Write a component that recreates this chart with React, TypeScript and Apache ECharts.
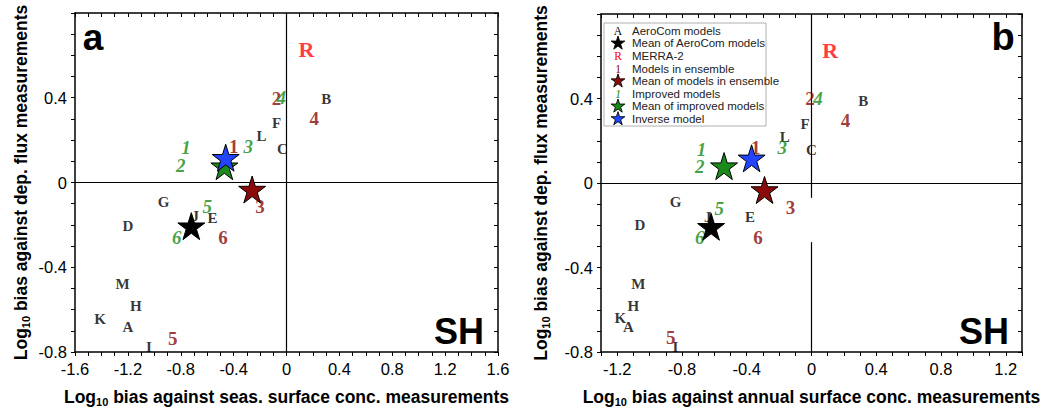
import React, { useEffect, useRef } from "react";
import * as echarts from "echarts";

// ---------- Panel a (seasonal surface conc.) ----------
const aeroLetters = ["A", "B", "C", "D", "E", "F", "G", "H", "I", "J", "K", "L", "M"];
const aeroA_X = [-1.2, 0.3, -0.03, -1.2, -0.56, -0.075, -0.93, -1.14, -1.04, -0.69, -1.41, -0.19, -1.24];
const aeroA_Y = [-0.68, 0.395, 0.16, -0.203, -0.167, 0.28, -0.093, -0.585, -0.775, -0.16, -0.645, 0.22, -0.48];
const modelNumbers = ["1", "2", "3", "4", "5", "6"];
const ensA_X = [-0.4, -0.075, -0.2, 0.21, -0.86, -0.48];
const ensA_Y = [0.17, 0.395, -0.115, 0.3, -0.735, -0.26];
const impA_X = [-0.76, -0.8, -0.29, -0.04, -0.6, -0.83];
const impA_Y = [0.164, 0.08, 0.17, 0.4, -0.115, -0.26];
const merraA = [0.15, 0.626];
const meanAeroA = [-0.72, -0.206];
const meanEnsA = [-0.26, -0.033];
const meanImpA = [-0.47, 0.077];
const inverseA = [-0.46, 0.117];

// ---------- Panel b (annual surface conc.) ----------
const aeroB_X = [-1.13, 0.32, 0.0, -1.06, -0.38, -0.04, -0.84, -1.1, -0.84, -0.64, -1.18, -0.165, -1.07];
const aeroB_Y = [-0.68, 0.39, 0.155, -0.2, -0.163, 0.28, -0.09, -0.58, -0.775, -0.16, -0.64, 0.22, -0.48];
const ensB_X = [-0.345, -0.01, -0.13, 0.21, -0.87, -0.33];
const ensB_Y = [0.17, 0.4, -0.115, 0.295, -0.73, -0.26];
const impB_X = [-0.68, -0.69, -0.18, 0.04, -0.57, -0.69];
const impB_Y = [0.16, 0.076, 0.17, 0.4, -0.12, -0.26];
const merraB = [0.115, 0.625];
const meanAeroB = [-0.62, -0.207];
const meanEnsB = [-0.29, -0.033];
const meanImpB = [-0.54, 0.08];
const inverseB = [-0.37, 0.117];

// ---------- axes ----------
const xRangeA = [-1.6, 1.6];
const xRangeB = [-1.3, 1.3];
const yRange = [-0.8, 0.8];
const xTitleA = "bias against seas. surface conc. measurements";
const xTitleB = "bias against annual surface conc. measurements";
const yTitle = "bias against dep. flux measurements";

const legendLabels = [
  "AeroCom models",
  "Mean of AeroCom models",
  "MERRA-2",
  "Models in ensemble",
  "Mean of models in ensemble",
  "Improved models",
  "Mean of improved models",
  "Inverse model",
];
const legendKinds = ["letter", "star", "merra", "ens", "star", "imp", "star", "star"];
const legendColors = ["#000000", "#000000", "#ff0000", "#8b0a0a", "#8b0a0a", "#1a8a1a", "#1a8a1a", "#2244ff"];

const DARKRED = "#880808";
const GREEN = "#168a16";
const RED = "#ff0a0a";

const STAR_D =
  "M50,0 L61.23,34.55 L97.55,34.55 L68.17,55.9 L79.39,90.45 L50,69.1 L20.61,90.45 L31.83,55.9 L2.45,34.55 L38.77,34.55 Z";
const STAR_SYMBOL = "path://" + STAR_D;

const SANS = "Liberation Sans";
const SERIF = "Liberation Serif";

function tickFmtX(v: number) {
  const r = Math.round(v * 10);
  if (r % 4 !== 0) return "";
  if (r === 0) return "0";
  return (r / 10).toFixed(1);
}
function tickFmtY(v: number) {
  const r = Math.round(v * 10);
  if (r % 4 !== 0 || r === 8) return "";
  if (r === 0) return "0";
  return (r / 10).toFixed(1);
}

const titleRich = {
  b: { fontSize: 17.5, fontWeight: "bold", fontFamily: SANS, color: "#000", lineHeight: 21 },
  s: { fontSize: 11, fontWeight: "bold", fontFamily: SANS, color: "#000", lineHeight: 21, verticalAlign: "bottom" },
};

const lineStyleAxis = { color: "#000", width: 1.5 };

function makeXAxes(gridIndex: number, range: number[], title: string) {
  return [
    {
      type: "value",
      gridIndex,
      position: "bottom",
      min: range[0],
      max: range[1],
      interval: 0.1,
      axisLine: { show: true, onZero: false, lineStyle: lineStyleAxis },
      axisTick: { show: true, inside: false, length: 4, lineStyle: { color: "#000", width: 1 } },
      axisLabel: { formatter: tickFmtX, color: "#000", fontSize: 16.5, fontFamily: SANS, margin: 8 },
      splitLine: { show: false },
      name: "{b|Log}{s|10}{b| " + title + "}",
      nameLocation: "middle",
      nameGap: 34,
      nameTextStyle: { rich: titleRich },
    },
    {
      type: "value",
      gridIndex,
      position: "top",
      min: range[0],
      max: range[1],
      interval: 0.1,
      axisLine: { show: true, onZero: false, lineStyle: lineStyleAxis },
      axisTick: { show: true, inside: true, length: 4, lineStyle: { color: "#000", width: 1 } },
      axisLabel: { show: false },
      splitLine: { show: false },
    },
  ];
}

function makeYAxes(gridIndex: number, gap: number) {
  return [
    {
      type: "value",
      gridIndex,
      position: "left",
      min: yRange[0],
      max: yRange[1],
      interval: 0.1,
      axisLine: { show: true, onZero: false, lineStyle: lineStyleAxis },
      axisTick: { show: true, inside: false, length: 4, lineStyle: { color: "#000", width: 1 } },
      axisLabel: { formatter: tickFmtY, color: "#000", fontSize: 16.5, fontFamily: SANS, margin: 8 },
      splitLine: { show: false },
      name: "{b|Log}{s|10}{b| " + yTitle + "}",
      nameLocation: "middle",
      nameRotate: 90,
      nameGap: gap,
      nameTextStyle: { rich: titleRich },
    },
    {
      type: "value",
      gridIndex,
      position: "right",
      min: yRange[0],
      max: yRange[1],
      interval: 0.1,
      axisLine: { show: true, onZero: false, lineStyle: lineStyleAxis },
      axisTick: { show: true, inside: true, length: 4, lineStyle: { color: "#000", width: 1 } },
      axisLabel: { show: false },
      splitLine: { show: false },
    },
  ];
}

function textSeries(xs: number[], ys: number[], labels: string[], style: any, xi: number, yi: number, markLine?: any) {
  const s: any = {
    type: "scatter",
    xAxisIndex: xi,
    yAxisIndex: yi,
    symbolSize: 1,
    itemStyle: { color: "rgba(0,0,0,0)" },
    label: {
      show: true,
      position: "inside",
      formatter: (p: any) => p.data[2],
      ...style,
    },
    data: xs.map((x, i) => [x, ys[i], labels[i]]),
    z: 3,
    silent: true,
  };
  if (markLine) s.markLine = markLine;
  return s;
}

function starSeries(pt: number[], color: string, xi: number, yi: number, z: number) {
  return {
    type: "scatter",
    xAxisIndex: xi,
    yAxisIndex: yi,
    symbol: STAR_SYMBOL,
    symbolSize: 27,
    itemStyle: { color, borderColor: "#000", borderWidth: 1, opacity: 1 },
    data: [pt],
    z,
    silent: true,
  };
}

const letterStyle = { color: "#000", fontFamily: SERIF, fontWeight: "bold", fontSize: 15 };
const ensStyle = { color: DARKRED, fontFamily: SERIF, fontWeight: "bold", fontSize: 19 };
const impStyle = { color: GREEN, fontFamily: SERIF, fontStyle: "italic", fontWeight: "bold", fontSize: 19 };
const merraStyle = { color: RED, fontFamily: SERIF, fontWeight: "bold", fontSize: 22 };

const zeroLineStyle = { color: "#000", width: 1.2, type: "solid" };

function panelSeries(
  xi: number,
  yi: number,
  aX: number[],
  aY: number[],
  eX: number[],
  eY: number[],
  iX: number[],
  iY: number[],
  merra: number[],
  mAero: number[],
  mEns: number[],
  mImp: number[],
  inv: number[],
  zeroLines: any[]
) {
  return [
    textSeries(aX, aY, aeroLetters, letterStyle, xi, yi, {
      silent: true,
      symbol: ["none", "none"],
      label: { show: false },
      lineStyle: zeroLineStyle,
      data: zeroLines,
      z: 1,
    }),
    textSeries(eX, eY, modelNumbers, ensStyle, xi, yi),
    textSeries(iX, iY, modelNumbers, impStyle, xi, yi),
    textSeries([merra[0]], [merra[1]], ["R"], merraStyle, xi, yi),
    starSeries(mAero, "#000000", xi, yi, 5),
    starSeries(mEns, "#8b0a0a", xi, yi, 5),
    starSeries(mImp, "#1a8a1a", xi, yi, 6),
    starSeries(inv, "#2244ff", xi, yi, 7),
  ];
}

function legendGraphic() {
  const left = 604;
  const top = 23;
  const w = 162;
  const h = 103;
  const children: any[] = [
    {
      type: "rect",
      shape: { x: left, y: top, width: w, height: h },
      style: { fill: "#fff", stroke: "#b0b0b0", lineWidth: 1 },
    },
  ];
  legendLabels.forEach((lab, i) => {
    const cy = 30.7 + i * 12.6;
    const kind = legendKinds[i];
    const color = legendColors[i];
    if (kind === "star") {
      const sc = 0.145;
      children.push({
        type: "star5",
        x: 618 - 50 * sc,
        y: cy - 50 * sc,
        scaleX: sc,
        scaleY: sc,
        style: { fill: color, stroke: "#000", lineWidth: 6 },
      });
    } else {
      const txt = kind === "letter" ? "A" : kind === "merra" ? "R" : "1";
      children.push({
        type: "text",
        x: 618,
        y: cy,
        style: {
          text: txt,
          fill: color,
          fontFamily: SERIF,
          fontSize: 11.5,
          fontStyle: kind === "imp" ? "italic" : "normal",
          textAlign: "center",
          textVerticalAlign: "middle",
        },
      });
    }
    children.push({
      type: "text",
      x: 632,
      y: cy,
      style: {
        text: lab,
        fill: "#222",
        fontFamily: SANS,
        fontSize: 11.5,
        textAlign: "left",
        textVerticalAlign: "middle",
      },
    });
  });
  return { type: "group", children, z: 20 };
}

function bigText(text: string, x: number, y: number, size: number) {
  return {
    type: "text",
    x,
    y,
    z: 20,
    style: {
      text,
      fill: "#000",
      fontFamily: SANS,
      fontWeight: "bold",
      fontSize: size,
      textAlign: "center",
      textVerticalAlign: "middle",
    },
  };
}

export default function App() {
  const ref = useRef<HTMLDivElement>(null);
  useEffect(() => {
    echarts.graphic.registerShape("star5", echarts.graphic.extendPath(STAR_D, {}));
    const chart = echarts.init(ref.current as HTMLDivElement, null, { renderer: "svg" });
    const xA = makeXAxes(0, xRangeA, xTitleA);
    const xB = makeXAxes(1, xRangeB, xTitleB);
    const yA = makeYAxes(0, 44);
    const yB = makeYAxes(1, 50);
    const option: any = {
      animation: false,
      backgroundColor: "#fff",
      grid: [
        { left: 75, top: 13, width: 423, height: 340 },
        { left: 601, top: 14, width: 421, height: 338 },
      ],
      xAxis: [...xA, ...xB],
      yAxis: [...yA, ...yB],
      series: [
        ...panelSeries(0, 0, aeroA_X, aeroA_Y, ensA_X, ensA_Y, impA_X, impA_Y, merraA, meanAeroA, meanEnsA, meanImpA, inverseA, [
          { xAxis: 0 },
          { yAxis: 0 },
        ]),
        ...panelSeries(2, 2, aeroB_X, aeroB_Y, ensB_X, ensB_Y, impB_X, impB_Y, merraB, meanAeroB, meanEnsB, meanImpB, inverseB, [
          { yAxis: 0 },
          [{ coord: [0, 0.8] }, { coord: [0, -0.07] }],
          [{ coord: [0, -0.28] }, { coord: [0, -0.8] }],
        ]),
      ],
      graphic: [
        bigText("a", 93, 37, 37),
        bigText("b", 1003, 37, 38),
        bigText("SH", 459, 331, 36),
        bigText("SH", 984, 331, 36),
        legendGraphic(),
      ],
    };
    chart.setOption(option);
    return () => chart.dispose();
  }, []);
  return (
    <div
      ref={ref}
      style={{ position: "absolute", left: 0, top: 0, width: 1050, height: 412, background: "#fff" }}
    />
  );
}
